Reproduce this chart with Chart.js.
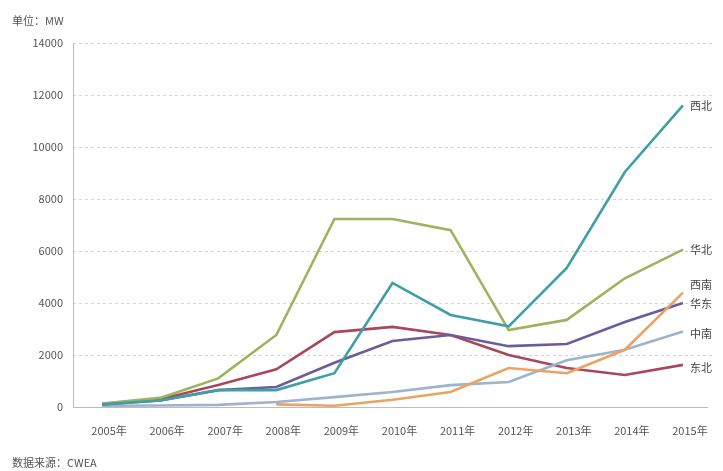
<!DOCTYPE html>
<html>
<head>
<meta charset="utf-8">
<script src="https://cdn.jsdelivr.net/npm/chart.js@4/dist/chart.umd.min.js"></script>
<style>
  html, body { margin:0; padding:0; background:#fff; }
  #wrap { position:relative; width:723px; height:471px; }
  .note { position:absolute; left:12px; font:11px "Noto Sans CJK SC", sans-serif; color:#555; }
</style>
</head>
<body>
<div id="wrap">
  <canvas id="windChart" width="723" height="471"></canvas>
  <div class="note" style="top:12px">单位：MW</div>
  <div class="note" style="top:454px">数据来源：CWEA</div>
</div>
<script>
// 年份 & 各区域累计装机 (MW)
const years = ['2005年','2006年','2007年','2008年','2009年','2010年','2011年','2012年','2013年','2014年','2015年'];
const xibei    = [100, 250, 650, 650, 1300, 4770, 3540, 3100, 5350, 9040, 11600];
const huabei   = [130, 350, 1100, 2770, 7230, 7230, 6800, 2960, 3350, 4950, 6050];
const xinan    = [null, null, null, 100, 50, 280, 580, 1500, 1300, 2200, 4400];
const huadong  = [100, 250, 650, 770, 1700, 2540, 2770, 2340, 2420, 3270, 4000];
const zhongnan = [50, 60, 80, 190, 380, 580, 840, 960, 1800, 2200, 2900];
const dongbei  = [120, 300, 850, 1450, 2880, 3080, 2770, 2000, 1500, 1230, 1620];

const seriesNames  = ['西北','华北','西南','华东','中南','东北'];
const seriesColors = ['#3f9fa5','#9db35c','#eba363','#6d5c9c','#9db3cf','#a9485b'];
const labelNudge   = [0, 0, -8, 1, 2, 3];
const yTicks = [0, 2000, 4000, 6000, 8000, 10000, 12000, 14000];

const FONT = '"Noto Sans CJK SC", sans-serif';

const endLabels = {
  id: 'endLabels',
  afterDatasetsDraw(chart) {
    const ctx = chart.ctx;
    ctx.save();
    ctx.font = '11px ' + FONT;
    ctx.fillStyle = '#444';
    ctx.textBaseline = 'middle';
    chart.data.datasets.forEach((ds, i) => {
      const meta = chart.getDatasetMeta(i);
      const pt = meta.data[meta.data.length - 1];
      ctx.fillText(ds.label, pt.x + 7, pt.y + labelNudge[i]);
    });
    ctx.restore();
  }
};

// 坐标轴实线（y 轴 + 0 线），网格为虚线
const solidAxes = {
  id: 'solidAxes',
  beforeDatasetsDraw(chart) {
    const { ctx, chartArea: a, scales } = chart;
    const y0 = scales.y.getPixelForValue(0);
    ctx.save();
    ctx.strokeStyle = '#bdbdbd';
    ctx.lineWidth = 1;
    ctx.beginPath();
    ctx.moveTo(a.left + 0.5, a.top);
    ctx.lineTo(a.left + 0.5, y0);
    ctx.moveTo(a.left, Math.round(y0) + 0.5);
    ctx.lineTo(a.right - 4, Math.round(y0) + 0.5);
    ctx.stroke();
    ctx.restore();
  }
};

const allData = [xibei, huabei, xinan, huadong, zhongnan, dongbei];

new Chart(document.getElementById('windChart').getContext('2d'), {
  type: 'line',
  data: {
    labels: years,
    datasets: allData.map((d, i) => ({
      label: seriesNames[i],
      data: d,
      borderColor: seriesColors[i],
      backgroundColor: seriesColors[i],
      borderWidth: 2.6,
      pointRadius: 0,
      tension: 0,
      fill: false,
      spanGaps: false
    }))
  },
  options: {
    responsive: false,
    animation: false,
    layout: { padding: { top: 43, right: 11, left: 0, bottom: 0 } },
    plugins: { legend: { display: false }, tooltip: { enabled: false } },
    scales: {
      x: {
        offset: true,
        grid: { display: false, drawTicks: false },
        border: { display: false },
        ticks: { color: '#555', font: { size: 11, family: FONT }, padding: 17, labelOffset: 7, maxRotation: 0, autoSkip: false },
        afterFit: s => { s.height = 64; }
      },
      y: {
        min: 0, max: 14000,
        afterBuildTicks: s => { s.ticks = yTicks.map(v => ({ value: v })); },
        grid: {
          drawTicks: false,
          color: ctx => ctx.tick && ctx.tick.value === 0 ? 'rgba(0,0,0,0)' : '#d4d4d4',
          lineWidth: 1
        },
        border: { display: false, dash: [3, 3] },
        ticks: { color: '#555', font: { size: 11, family: FONT }, padding: 10, callback: v => String(v) },
        afterFit: s => { s.width = 73; }
      }
    }
  },
  plugins: [solidAxes, endLabels]
});
</script>
</body>
</html>
